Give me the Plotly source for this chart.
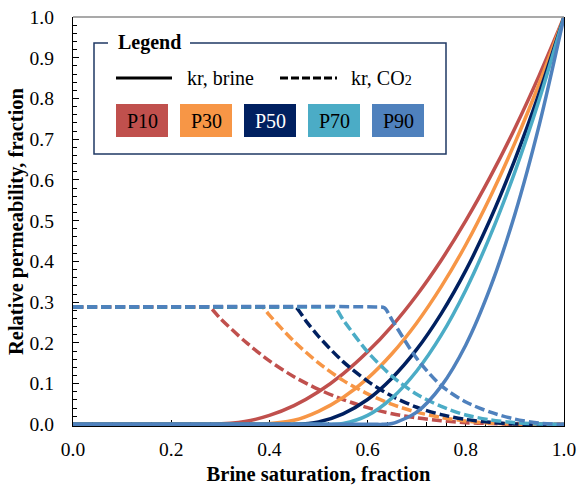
import plotly.graph_objects as go

# Percentile cases and their colours
case_names = ["P10", "P30", "P50", "P70", "P90"]
case_colors = ["#C0504D", "#F79646", "#002060", "#4BACC6", "#4F81BD"]
case_text_colors = ["black", "black", "white", "black", "black"]

# Brine relative permeability (solid lines): saturation and kr
p10_brine_sw = [0, 0.27, 0.28, 0.35, 0.40, 0.45, 0.50, 0.55, 0.60, 0.65, 0.70, 0.75, 0.80, 0.85, 0.90, 0.95, 1.0]
p10_brine_kr = [0, 0, 0, 0.007, 0.022, 0.046, 0.080, 0.124, 0.178, 0.242, 0.317, 0.403, 0.500, 0.608, 0.727, 0.858, 1.0]

p30_brine_sw = [0, 0.37, 0.38, 0.45, 0.50, 0.55, 0.60, 0.65, 0.70, 0.75, 0.80, 0.85, 0.90, 0.95, 1.0]
p30_brine_kr = [0, 0, 0, 0.010, 0.032, 0.066, 0.113, 0.174, 0.249, 0.338, 0.441, 0.559, 0.691, 0.838, 1.0]

p50_brine_sw = [0, 0.44, 0.45, 0.50, 0.55, 0.60, 0.65, 0.70, 0.75, 0.80, 0.85, 0.90, 0.95, 1.0]
p50_brine_kr = [0, 0, 0, 0.006, 0.026, 0.061, 0.114, 0.184, 0.272, 0.378, 0.504, 0.650, 0.815, 1.0]

p70_brine_sw = [0, 0.52, 0.53, 0.55, 0.60, 0.65, 0.70, 0.75, 0.80, 0.85, 0.90, 0.95, 1.0]
p70_brine_kr = [0, 0, 0, 0.002, 0.022, 0.065, 0.131, 0.219, 0.330, 0.464, 0.620, 0.799, 1.0]

p90_brine_sw = [0, 0.62, 0.63, 0.65, 0.70, 0.75, 0.80, 0.85, 0.90, 0.95, 1.0]
p90_brine_kr = [0, 0, 0, 0.002, 0.030, 0.094, 0.195, 0.336, 0.516, 0.737, 1.0]

# CO2 relative permeability (dashed lines): saturation and kr
p10_co2_sw = [0, 0.268, 0.278, 0.30, 0.35, 0.40, 0.45, 0.50, 0.55, 0.60, 0.65, 0.70, 0.75, 0.80, 0.85, 0.90, 1.0]
p10_co2_kr = [0.288, 0.288, 0.288, 0.260, 0.204, 0.156, 0.117, 0.086, 0.061, 0.041, 0.026, 0.016, 0.009, 0.004, 0.002, 0.0, 0.0]

p30_co2_sw = [0, 0.376, 0.386, 0.40, 0.45, 0.50, 0.55, 0.60, 0.65, 0.70, 0.75, 0.80, 0.85, 0.90, 1.0]
p30_co2_kr = [0.288, 0.288, 0.288, 0.268, 0.204, 0.151, 0.108, 0.075, 0.049, 0.030, 0.017, 0.008, 0.003, 0.001, 0.0]

p50_co2_sw = [0, 0.443, 0.453, 0.475, 0.50, 0.55, 0.60, 0.65, 0.70, 0.75, 0.80, 0.85, 0.90, 0.95, 1.0]
p50_co2_kr = [0.288, 0.288, 0.288, 0.253, 0.216, 0.154, 0.106, 0.069, 0.042, 0.024, 0.012, 0.005, 0.001, 0.0, 0.0]

p70_co2_sw = [0, 0.523, 0.533, 0.55, 0.60, 0.65, 0.70, 0.75, 0.80, 0.85, 0.90, 0.95, 1.0]
p70_co2_kr = [0.288, 0.288, 0.288, 0.257, 0.178, 0.118, 0.074, 0.044, 0.023, 0.011, 0.004, 0.001, 0.0]

p90_co2_sw = [0, 0.615, 0.634, 0.65, 0.70, 0.75, 0.80, 0.85, 0.90, 0.95, 1.0]
p90_co2_kr = [0.288, 0.288, 0.286, 0.256, 0.162, 0.095, 0.055, 0.030, 0.013, 0.003, 0.0]

brine_curves = [
    (p10_brine_sw, p10_brine_kr), (p30_brine_sw, p30_brine_kr), (p50_brine_sw, p50_brine_kr),
    (p70_brine_sw, p70_brine_kr), (p90_brine_sw, p90_brine_kr),
]
co2_curves = [
    (p10_co2_sw, p10_co2_kr), (p30_co2_sw, p30_co2_kr), (p50_co2_sw, p50_co2_kr),
    (p70_co2_sw, p70_co2_kr), (p90_co2_sw, p90_co2_kr),
]

x_ticks = [0.0, 0.2, 0.4, 0.6, 0.8, 1.0]
y_ticks = [0.0, 0.1, 0.2, 0.3, 0.4, 0.5, 0.6, 0.7, 0.8, 0.9, 1.0]

FONT = "Liberation Serif, Times New Roman, serif"
W, H = 578, 491
PL, PR, PT, PB = 73, 564, 17, 426  # plot-area edges in page pixels


def px(x):
    return (x - PL) / (PR - PL)


def py(y):
    return (PB - y) / (PB - PT)


fig = go.Figure()
for name, color, (bx, by), (cx, cy) in zip(case_names, case_colors, brine_curves, co2_curves):
    fig.add_trace(go.Scatter(
        x=bx, y=by, mode="lines", name=f"{name} kr, brine",
        line=dict(color=color, width=3.5, shape="spline", smoothing=0.8),
        showlegend=False,
    ))
    fig.add_trace(go.Scatter(
        x=cx, y=cy, mode="lines", name=f"{name} kr, CO2",
        line=dict(color=color, width=3.5, dash="10px,4px", shape="spline", smoothing=0.8),
        showlegend=False,
    ))

shapes = []
annotations = []

# top border in grey
shapes.append(dict(type="line", xref="paper", yref="paper", x0=0, x1=1, y0=1, y1=1,
                   line=dict(color="#8C8C8C", width=1.5), layer="above"))

# legend frame
shapes.append(dict(type="rect", xref="paper", yref="paper",
                   x0=px(94), x1=px(446), y0=py(154), y1=py(43),
                   line=dict(color="#1F3864", width=1.5), fillcolor="white", layer="above"))
# gap in the frame behind the legend heading
shapes.append(dict(type="rect", xref="paper", yref="paper",
                   x0=px(108), x1=px(190), y0=py(47), y1=py(39),
                   line=dict(width=0), fillcolor="white", layer="above"))
annotations.append(dict(xref="paper", yref="paper", x=px(116), y=py(43),
                        xanchor="left", yanchor="middle", showarrow=False,
                        text="<b>Legend</b>", font=dict(family=FONT, size=20, color="black")))

# line-style keys
shapes.append(dict(type="line", xref="paper", yref="paper", x0=px(116), x1=px(172),
                   y0=py(78), y1=py(78), line=dict(color="black", width=3), layer="above"))
shapes.append(dict(type="line", xref="paper", yref="paper", x0=px(280), x1=px(337),
                   y0=py(78), y1=py(78), line=dict(color="black", width=3, dash="8px,3px"),
                   layer="above"))
annotations.append(dict(xref="paper", yref="paper", x=px(185), y=py(78),
                        xanchor="left", yanchor="middle", showarrow=False,
                        text="kr, brine", font=dict(family=FONT, size=20, color="black")))
annotations.append(dict(xref="paper", yref="paper", x=px(349), y=py(78),
                        xanchor="left", yanchor="middle", showarrow=False,
                        text="kr, CO<span style='font-size:14px'>2</span>",
                        font=dict(family=FONT, size=20, color="black")))

# colour keys
for i, (name, color, tcolor) in enumerate(zip(case_names, case_colors, case_text_colors)):
    x0 = 116 + 64 * i
    shapes.append(dict(type="rect", xref="paper", yref="paper",
                       x0=px(x0), x1=px(x0 + 52), y0=py(137), y1=py(104),
                       line=dict(width=0), fillcolor=color, layer="above"))
    annotations.append(dict(xref="paper", yref="paper", x=px(x0 + 26), y=py(120.5),
                            xanchor="center", yanchor="middle", showarrow=False,
                            text=name, font=dict(family=FONT, size=20, color=tcolor)))

fig.update_layout(
    width=W, height=H,
    margin=dict(l=PL, r=W - PR, t=PT, b=H - PB, autoexpand=False),
    paper_bgcolor="white", plot_bgcolor="white",
    font=dict(family=FONT, size=19.5, color="black"),
    shapes=shapes, annotations=annotations,
    showlegend=False,
)
fig.update_xaxes(
    range=[0, 1], tickvals=x_ticks, ticktext=[f"{v:.1f}" for v in x_ticks],
    ticks="inside", ticklen=6, tickwidth=1, tickcolor="black",
    minor=dict(dtick=0.04, tick0=0, ticks="inside", ticklen=3.5, tickwidth=1, tickcolor="black"),
    showline=True, linecolor="black", linewidth=1.3, mirror=False,
    showgrid=False, zeroline=False, layer="below traces", automargin=False,
    ticklabelstandoff=5,
    title=dict(text="Brine saturation, fraction", standoff=8,
               font=dict(family=FONT, size=20.5, color="black", weight="bold")),
)
fig.update_yaxes(
    range=[-0.004, 1], tickvals=y_ticks, ticktext=[f"{v:.1f}" for v in y_ticks],
    ticks="inside", ticklen=6, tickwidth=1, tickcolor="black",
    minor=dict(dtick=0.02, tick0=0, ticks="inside", ticklen=3.5, tickwidth=1, tickcolor="black"),
    showline=True, linecolor="black", linewidth=1.3, mirror=True,
    showgrid=False, zeroline=False, layer="below traces", automargin=False,
    ticklabelstandoff=14,
    title=dict(text="Relative permeability, fraction", standoff=0,
               font=dict(family=FONT, size=20.5, color="black", weight="bold")),
)

fig.write_html("out.html")
